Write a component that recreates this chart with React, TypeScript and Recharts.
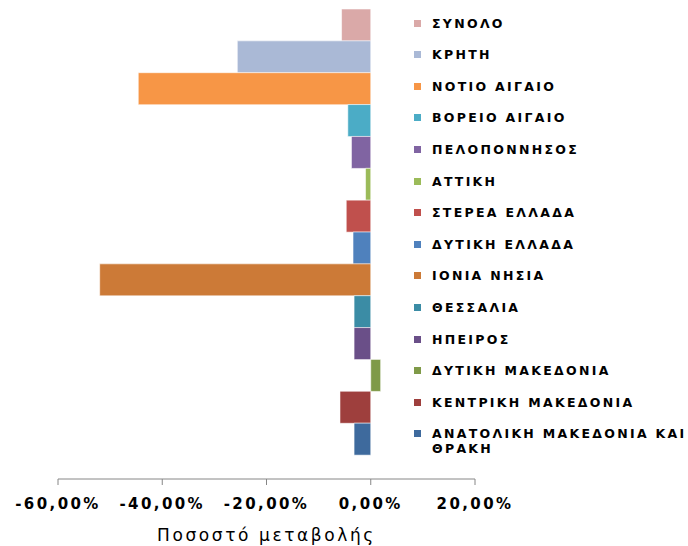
import React from "react";
import { BarChart, Bar, XAxis, YAxis, Cell } from "recharts";

const regions: string[] = [
  "ΣΥΝΟΛΟ",
  "ΚΡΗΤΗ",
  "ΝΟΤΙΟ ΑΙΓΑΙΟ",
  "ΒΟΡΕΙΟ ΑΙΓΑΙΟ",
  "ΠΕΛΟΠΟΝΝΗΣΟΣ",
  "ΑΤΤΙΚΗ",
  "ΣΤΕΡΕΑ ΕΛΛΑΔΑ",
  "ΔΥΤΙΚΗ ΕΛΛΑΔΑ",
  "ΙΟΝΙΑ ΝΗΣΙΑ",
  "ΘΕΣΣΑΛΙΑ",
  "ΗΠΕΙΡΟΣ",
  "ΔΥΤΙΚΗ ΜΑΚΕΔΟΝΙΑ",
  "ΚΕΝΤΡΙΚΗ ΜΑΚΕΔΟΝΙΑ",
  "ΑΝΑΤΟΛΙΚΗ ΜΑΚΕΔΟΝΙΑ ΚΑΙ\nΘΡΑΚΗ",
];

const changes: number[] = [
  -0.056, -0.256, -0.446, -0.044, -0.037, -0.01, -0.047, -0.034, -0.52,
  -0.032, -0.032, 0.019, -0.059, -0.032,
];

const colors: string[] = [
  "#DAA9A8",
  "#AAB9D6",
  "#F79646",
  "#4BACC6",
  "#8064A2",
  "#9BBB59",
  "#C0504D",
  "#4F81BD",
  "#CC7A37",
  "#3B8CA5",
  "#6A4F88",
  "#7F9A48",
  "#9E3F3D",
  "#3E6A9D",
];

const xTicks: number[] = [-0.6, -0.4, -0.2, 0, 0.2];
const axisTitle = "Ποσοστό μεταβολής";

const data = regions.map((r, i) => ({ name: r, value: changes[i] }));

const fmt = (v: number) => (v * 100).toFixed(2).replace(".", ",") + "%";

const Tick = (props: any) => {
  const { x, payload } = props;
  return (
    <text
      x={x}
      y={509}
      textAnchor="middle"
      fontFamily="DejaVu Sans"
      fontWeight="bold"
      fontSize={15}
      letterSpacing={2.4}
      fill="#000"
    >
      {fmt(payload.value)}
    </text>
  );
};

export default function App() {
  const legendTop = 23;
  const legendStep = 31.6;
  return (
    <div style={{ position: "absolute", left: 0, top: 0, width: 688, height: 546, background: "#fff" }}>
      <BarChart
        width={688}
        height={546}
        data={data}
        layout="vertical"
        margin={{ top: 9, right: 213, bottom: 7, left: 58 }}
        barCategoryGap={0}
      >
        <XAxis
          type="number"
          domain={[-0.6, 0.2]}
          ticks={xTicks}
          allowDataOverflow
          height={60}
          stroke="#868686"
          tickSize={6}
          tick={<Tick />}
          label={(p: any) => {
            const vb = p.viewBox || {};
            return (
              <text
                x={(vb.x ?? 58) + (vb.width ?? 417) / 2}
                y={541}
                textAnchor="middle"
                fontFamily="DejaVu Sans"
                fontSize={17}
                letterSpacing={2.6}
                fill="#000"
              >
                {axisTitle}
              </text>
            );
          }}
        />
        <YAxis type="category" dataKey="name" hide padding={{ top: 0, bottom: 24 }} />
        <Bar dataKey="value" isAnimationActive={false} stroke="rgba(255,255,255,0.55)" strokeWidth={1}>
          {data.map((d, i) => (
            <Cell key={i} fill={colors[i]} />
          ))}
        </Bar>
      </BarChart>
      {regions.map((r, i) => {
        const cy = legendTop + i * legendStep;
        return (
          <React.Fragment key={r}>
            <div
              style={{
                position: "absolute",
                left: 414,
                top: cy - 3.5,
                width: 7,
                height: 7,
                background: colors[i],
              }}
            />
            <div
              style={{
                position: "absolute",
                left: 432,
                top: cy - 7.5,
                width: 256,
                lineHeight: "15px",
                fontFamily: "DejaVu Sans",
                fontWeight: "bold",
                fontSize: 12.5,
                letterSpacing: 2.3,
                color: "#000",
                whiteSpace: "pre",
              }}
            >
              {r}
            </div>
          </React.Fragment>
        );
      })}
    </div>
  );
}
